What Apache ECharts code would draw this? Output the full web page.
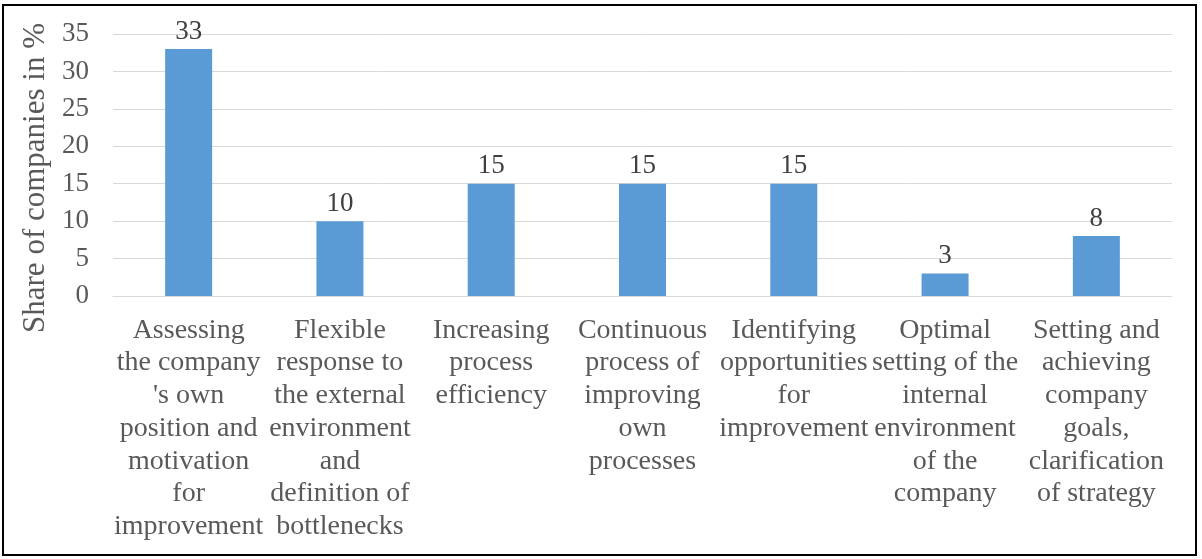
<!DOCTYPE html>
<html><head><meta charset="utf-8">
<script src="https://cdn.jsdelivr.net/npm/echarts@6/dist/echarts.min.js"></script>
<style>
html,body{margin:0;padding:0;background:#fff;}
#frame{position:absolute;left:2px;top:4px;width:1195px;height:552px;border:2px solid #000;box-sizing:border-box;}
#c{position:absolute;left:0;top:0;width:1202px;height:559px;}
</style></head>
<body>
<div id="frame"></div>
<div id="c"></div>
<script>
const categories = [
  "Assessing\nthe company\n's own\nposition and\nmotivation\nfor\nimprovement",
  "Flexible\nresponse to\nthe external\nenvironment\nand\ndefinition of\nbottlenecks",
  "Increasing\nprocess\nefficiency",
  "Continuous\nprocess of\nimproving\nown\nprocesses",
  "Identifying\nopportunities\nfor\nimprovement",
  "Optimal\nsetting of the\ninternal\nenvironment\nof the\ncompany",
  "Setting and\nachieving\ncompany\ngoals,\nclarification\nof strategy"
];
const values = [33, 10, 15, 15, 15, 3, 8];
const yAxisName = "Share of companies in %";

const font = "'Liberation Serif', 'Times New Roman', serif";
const chart = echarts.init(document.getElementById('c'));
chart.setOption({
  animation: false,
  grid: {left: 113, right: 30, top: 34, bottom: 263},
  xAxis: {
    type: 'category', data: categories,
    axisLine: {show: true, lineStyle: {color: '#d9d9d9', width: 1}},
    axisTick: {show: false},
    axisLabel: {interval: 0, color: '#595959', fontFamily: font, fontSize: 28, lineHeight: 32.7, margin: 18, align: 'center'}
  },
  yAxis: {
    type: 'value', min: 0, max: 35, interval: 5,
    name: yAxisName, nameLocation: 'middle', nameGap: 62, nameRotate: 90,
    nameTextStyle: {color: '#595959', fontFamily: font, fontSize: 31, padding: [0, 26, 0, 0]},
    axisLine: {show: false}, axisTick: {show: false},
    axisLabel: {color: '#595959', fontFamily: font, fontSize: 27, margin: 24},
    splitLine: {lineStyle: {color: '#d9d9d9', width: 1}}
  },
  series: [{
    type: 'bar', data: values, barWidth: 47,
    itemStyle: {color: '#5b9bd5'},
    label: {show: true, position: 'top', color: '#404040', fontFamily: font, fontSize: 27, distance: 4}
  }]
});
</script>
</body></html>
